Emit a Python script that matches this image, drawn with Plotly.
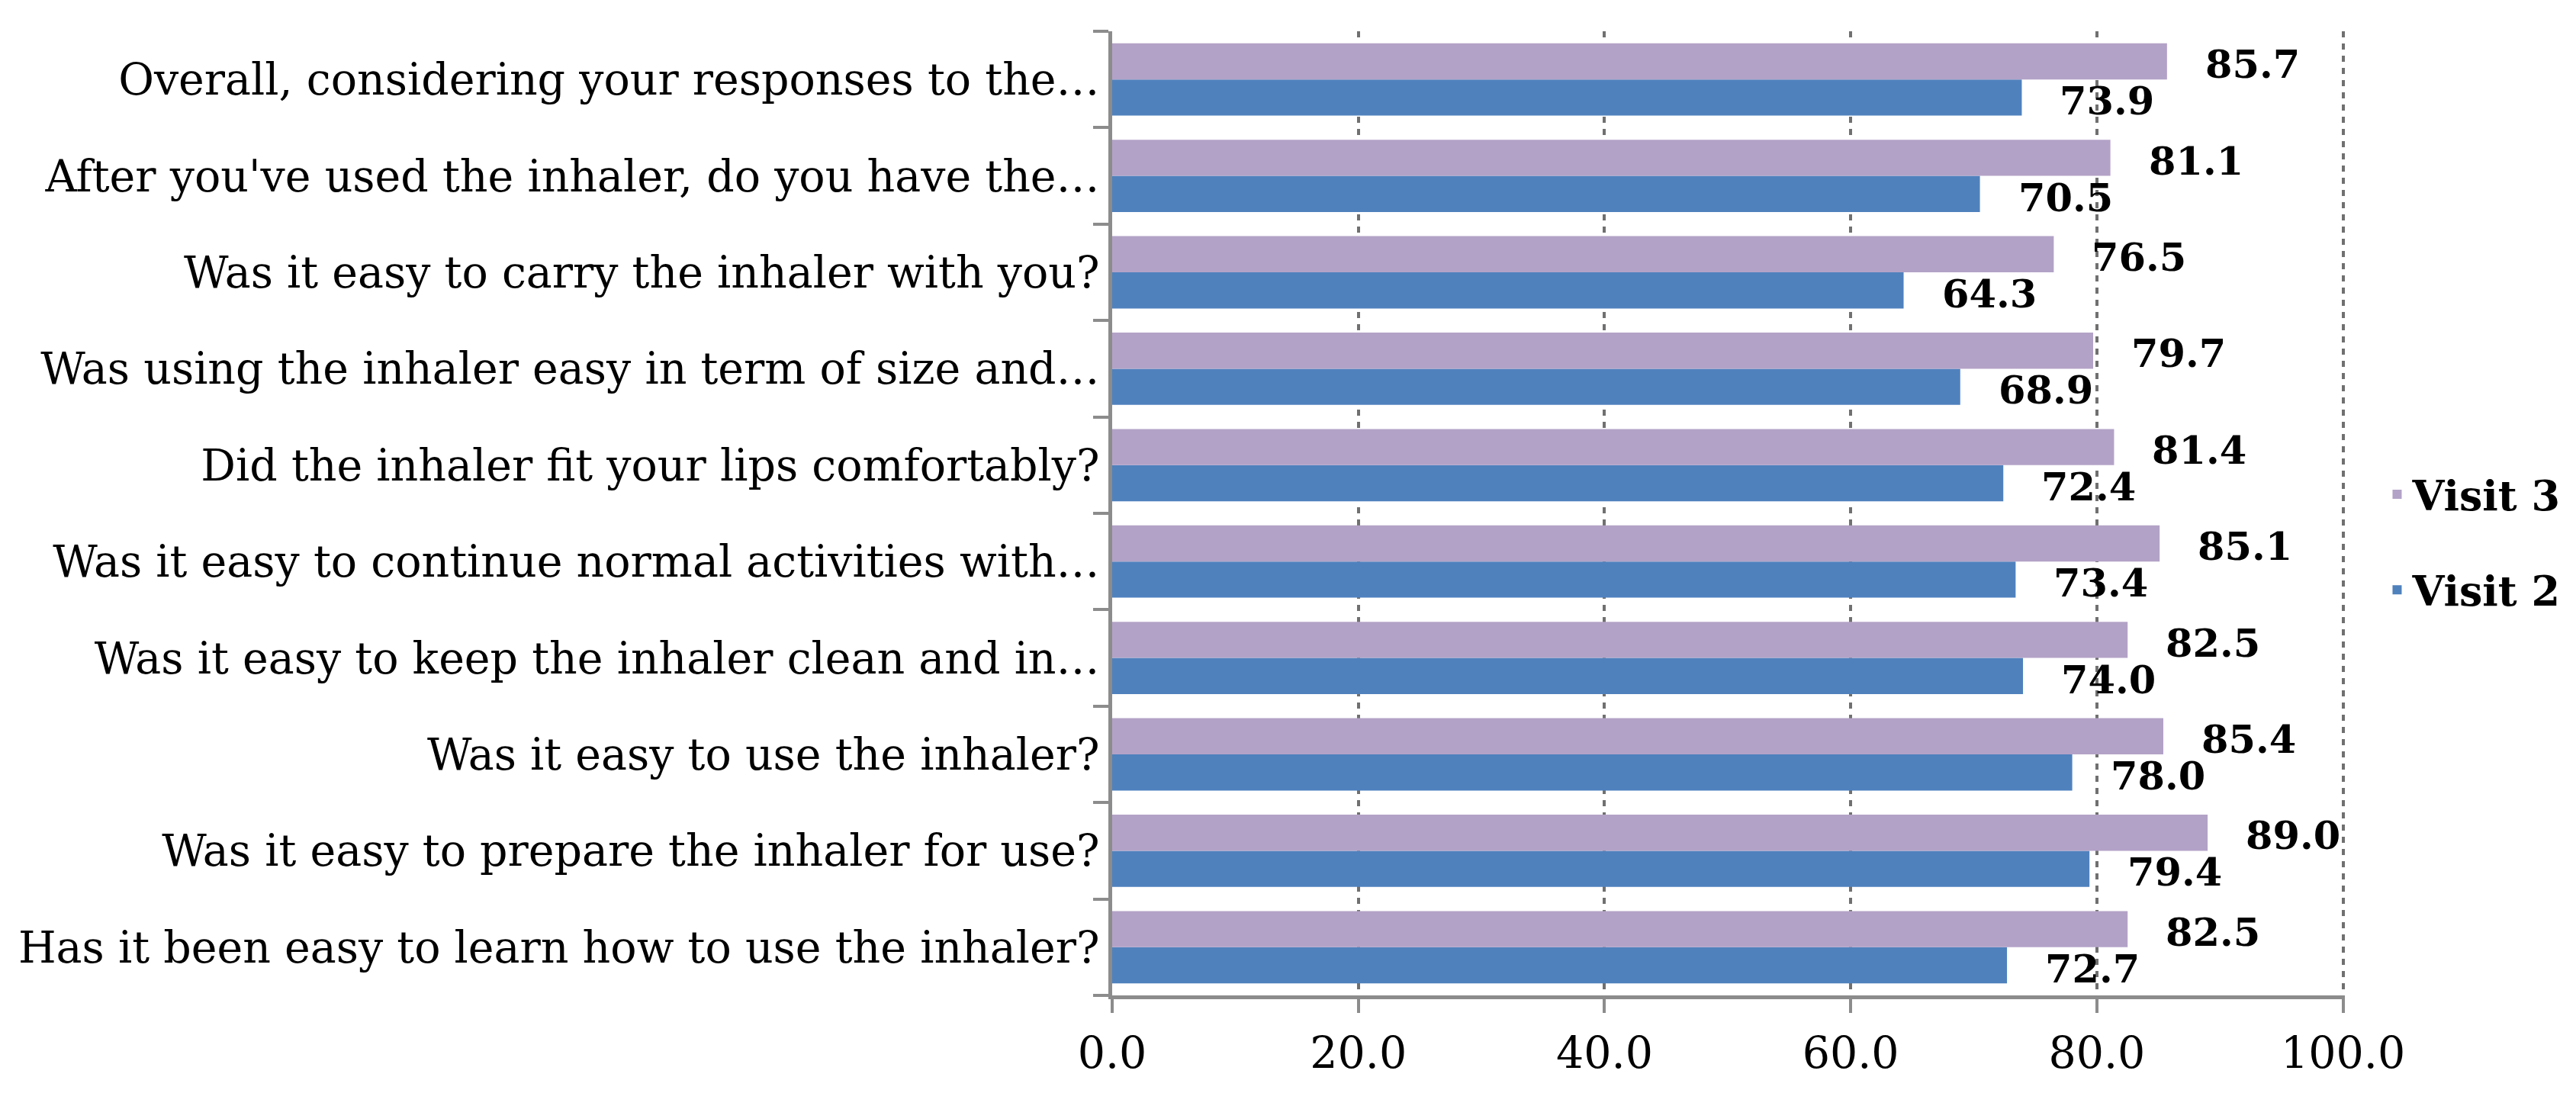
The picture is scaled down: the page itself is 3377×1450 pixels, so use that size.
import plotly.graph_objects as go

# Categories listed bottom-to-top (Plotly category axis draws first item at bottom)
categories = [
    "Has it been easy to learn how to use the inhaler?",
    "Was it easy to prepare the inhaler for use?",
    "Was it easy to use the inhaler?",
    "Was it easy to keep the inhaler clean and in…",
    "Was it easy to continue normal activities with…",
    "Did the inhaler fit your lips comfortably?",
    "Was using the inhaler easy in term of size and…",
    "Was it easy to carry the inhaler with you?",
    "After you've used the inhaler, do you have the…",
    "Overall, considering your responses to the…",
]
visit3 = [82.5, 89.0, 85.4, 82.5, 85.1, 81.4, 79.7, 76.5, 81.1, 85.7]
visit2 = [72.7, 79.4, 78.0, 74.0, 73.4, 72.4, 68.9, 64.3, 70.5, 73.9]
x_ticks = [0, 20, 40, 60, 80, 100]
x_ticklabels = ["0.0", "20.0", "40.0", "60.0", "80.0", "100.0"]

COL_V3 = "#B3A2C7"
COL_V2 = "#4F81BD"
SERIF = "DejaVu Serif"
AXIS_GRAY = "#8C8C8C"

fig = go.Figure()
fig.add_trace(go.Bar(
    y=categories, x=visit2, orientation="h", name="Visit 2",
    marker=dict(color=COL_V2, line=dict(width=0)), legendgroup="v2", legendrank=2,
))
fig.add_trace(go.Bar(
    y=categories, x=visit3, orientation="h", name="Visit 3",
    marker=dict(color=COL_V3, line=dict(width=0)), legendgroup="v3", legendrank=1,
))

annotations = []
for cat, v in zip(categories, visit3):
    annotations.append(dict(
        x=v, y=cat, xref="x", yref="y", text=f"{v:.1f}", showarrow=False,
        xanchor="left", yanchor="middle", xshift=48, yshift=20,
        font=dict(family=SERIF, size=51, color="black", weight="bold"),
    ))
for cat, v in zip(categories, visit2):
    annotations.append(dict(
        x=v, y=cat, xref="x", yref="y", text=f"{v:.1f}", showarrow=False,
        xanchor="left", yanchor="middle", xshift=48, yshift=-28,
        font=dict(family=SERIF, size=51, color="black", weight="bold"),
    ))

fig.update_layout(
    width=3377, height=1450,
    margin=dict(l=1450, r=311, t=33, b=153, autoexpand=False),
    paper_bgcolor="white", plot_bgcolor="white",
    barmode="group", bargap=0.25, bargroupgap=0,
    font=dict(family=SERIF, color="black"),
    showlegend=True,
    legend=dict(
        x=1.03, y=0.47, xanchor="left", yanchor="middle",
        traceorder="grouped", tracegroupgap=52,
        font=dict(family=SERIF, size=54, color="black", weight="bold"),
        bgcolor="rgba(0,0,0,0)",
    ),
    annotations=annotations,
)
fig.update_xaxes(
    range=[0, 100.15], tickvals=x_ticks, ticktext=x_ticklabels,
    showgrid=True, gridcolor="#707070", gridwidth=4, griddash="8px,8px",
    zeroline=False,
    showline=True, linecolor=AXIS_GRAY, linewidth=5,
    ticks="outside", ticklen=18, tickwidth=4, tickcolor=AXIS_GRAY,
    tickfont=dict(family=SERIF, size=57, color="black"),
    ticklabelstandoff=4,
)
fig.update_yaxes(
    type="category", categoryorder="array", categoryarray=categories,
    showgrid=False, zeroline=False,
    showline=True, linecolor=AXIS_GRAY, linewidth=5,
    ticks="outside", tickson="boundaries", ticklen=20, tickwidth=4, tickcolor=AXIS_GRAY,
    tickfont=dict(family=SERIF, size=57, color="black"),
)

fig.write_html("out.html")
